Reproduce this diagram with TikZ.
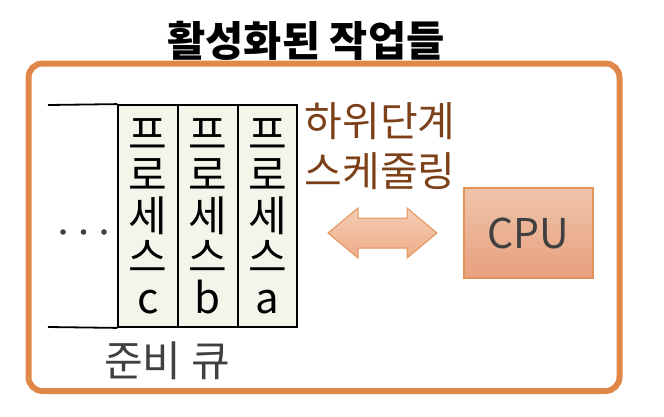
\documentclass[tikz,border=0pt]{standalone}
\usepackage{fontspec}
\setmainfont{Noto Sans CJK KR}
\definecolor{frameor}{HTML}{E0874A}
\definecolor{brownt}{HTML}{7D411A}
\definecolor{grayt}{HTML}{404040}
\definecolor{boxfill}{HTML}{F4F4EB}
\definecolor{arrtop}{HTML}{F5CDB5}
\definecolor{arrbot}{HTML}{EDAC88}
\definecolor{cputop}{HTML}{EEC3AA}
\definecolor{cpubot}{HTML}{E8A17E}
\definecolor{cpuline}{HTML}{E3935C}
\begin{document}
\begin{tikzpicture}[x=1pt,y=-1pt,
  procbox/.style={draw=black,line width=1.8pt,fill=boxfill,minimum width=59.5pt,minimum height=222pt,inner sep=0pt,
    align=center,font=\fontsize{42}{41}\selectfont},
  qline/.style={draw=black,line width=1.8pt},
  lbl/.style={inner sep=0pt,align=center}]
\useasboundingbox (0,0) rectangle (664,416);
% frame
\draw[frameor,line width=6pt,rounded corners=14pt] (28.5,63.5) rectangle (619.5,391);
% title
\node[lbl,font=\fontsize{41.5}{46}\selectfont\bfseries] (title) at (306,41) {활성화된 작업들};
% queue boxes
\node[procbox] (pc) at (148,216) {프\\로\\세\\스\\c};
\node[procbox] (pb) at (207.8,216) {프\\로\\세\\스\\b};
\node[procbox] (pa) at (267.5,216) {프\\로\\세\\스\\a};
\coordinate (qtl) at (48,105);
\coordinate (qbl) at (48,327);
\draw[qline] (qtl) -- (pc.north west);
\draw[qline] (qbl) -- (pc.south west);
% dots
\fill[grayt] (63,232) circle (2.8pt) (83.5,232) circle (2.8pt) (104,232) circle (2.8pt);
% queue label
\node[lbl,text=grayt,font=\fontsize{42}{46}\selectfont] (qlabel) at (167,361) {준비 큐};
% scheduling label
\node[lbl,text=brownt,font=\fontsize{41}{50}\selectfont] (sched) at (380,146) {하위단계\\스케줄링};
% CPU
\node[draw=cpuline,line width=1.2pt,top color=cputop,bottom color=cpubot,minimum width=129pt,minimum height=90pt,
  text=grayt,font=\fontsize{41}{46}\selectfont] (cpu) at (528.5,233) {CPU};
% double arrow
\draw[cpuline,line width=1pt,top color=arrtop,bottom color=arrbot]
  (328,233) -- (358,208) -- (358,218) -- (407,218) -- (407,208) -- (437,233)
  -- (407,258) -- (407,248) -- (358,248) -- (358,258) -- cycle;
\end{tikzpicture}
\end{document}
